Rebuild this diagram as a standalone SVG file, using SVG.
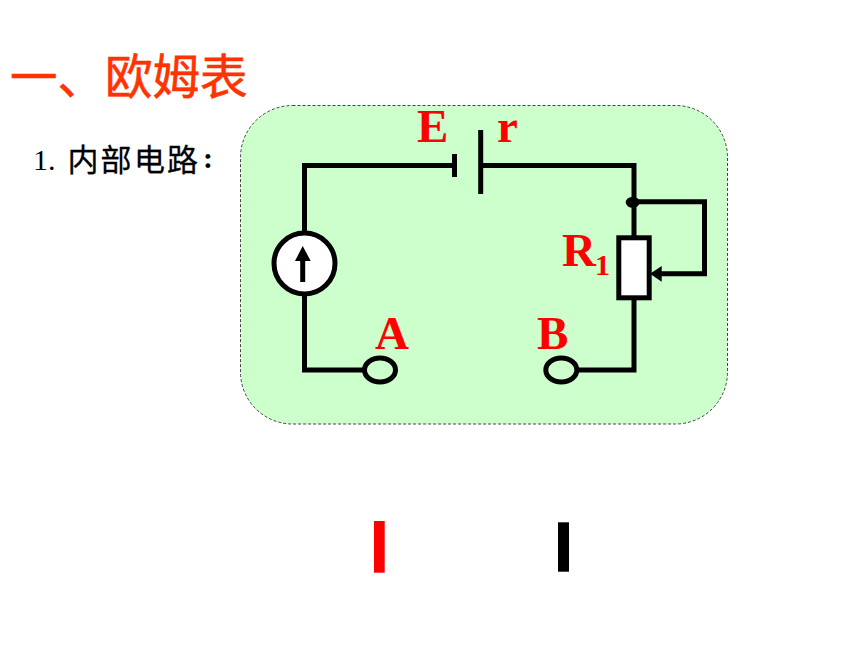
<svg xmlns="http://www.w3.org/2000/svg" width="860" height="645" viewBox="0 0 860 645">
<style>
.w{fill:none;stroke:#000;stroke-width:5}
.l{fill:#f00;font-family:"Liberation Serif",serif;font-weight:bold;font-size:47px}
.c{font-family:"Noto Sans CJK SC",sans-serif}
</style>
<rect width="860" height="645" fill="#fff"/>
<g id="title"><text class="c" x="10" y="94" font-size="47.500" fill="#ff3300" stroke="#ff3300" stroke-width="0.600">一、欧姆表</text></g>
<g id="subtitle"><text x="33" y="170" font-size="30" fill="#000" font-family="Liberation Serif, serif">1.</text>
<text class="c" x="67.500 100.500 134 167" y="170.500" font-size="31" fill="#000" stroke="#000" stroke-width="0.300">内部电路</text>
<text x="203" y="168" font-size="30" font-weight="bold" fill="#000" font-family="Liberation Serif, serif">:</text></g>
<g id="panel"><rect x="240.500" y="105.500" width="487" height="318.500" rx="52" ry="52" fill="#ccffcc" stroke="#444" stroke-width="1" stroke-dasharray="3 2"/></g>
<g id="connectors">
<path class="w" d="M454.500 165.500H304.500V370H365"/>
<path class="w" d="M480.500 165.500H634V237M634 298V370H577"/>
<path class="w" d="M633 201.700H704.500V273.700H660"/>
</g>
<g id="battery"><path d="M454.500 154V177M480.700 130V194" class="w"/></g>
<g id="meter">
<circle cx="304.500" cy="263.500" r="30.500" fill="#fff" stroke="#000" stroke-width="5"/>
<path d="M302.700 282V258" class="w"/>
<path d="M302.700 246L310.700 261H295z" fill="#000"/>
</g>
<g id="resistor">
<rect x="618.800" y="237.800" width="30.400" height="60" fill="#fff" stroke="#000" stroke-width="5"/>
<path d="M650 273.700L661.700 266V281.700z" fill="#000"/>
<ellipse cx="632.700" cy="202.300" rx="7" ry="5.500" fill="#000"/>
</g>
<g id="terminal-a"><ellipse cx="380" cy="370" rx="15.500" ry="12" fill="none" stroke="#000" stroke-width="5"/></g>
<g id="terminal-b"><ellipse cx="561.300" cy="370" rx="15.500" ry="12" fill="none" stroke="#000" stroke-width="5"/></g>
<g id="labels">
<text class="l" x="417" y="142">E</text>
<text class="l" x="497" y="142">r</text>
<text class="l" x="375" y="349">A</text>
<text class="l" x="537" y="349">B</text>
<text class="l" x="562" y="266">R</text>
<text class="l" x="595" y="275" style="font-size:30px">1</text>
</g>
<g id="probe-red"><rect x="374" y="521" width="10.700" height="51.700" fill="#f00"/></g>
<g id="probe-black"><rect x="558" y="522.300" width="11" height="49.400" fill="#000"/></g>
</svg>
